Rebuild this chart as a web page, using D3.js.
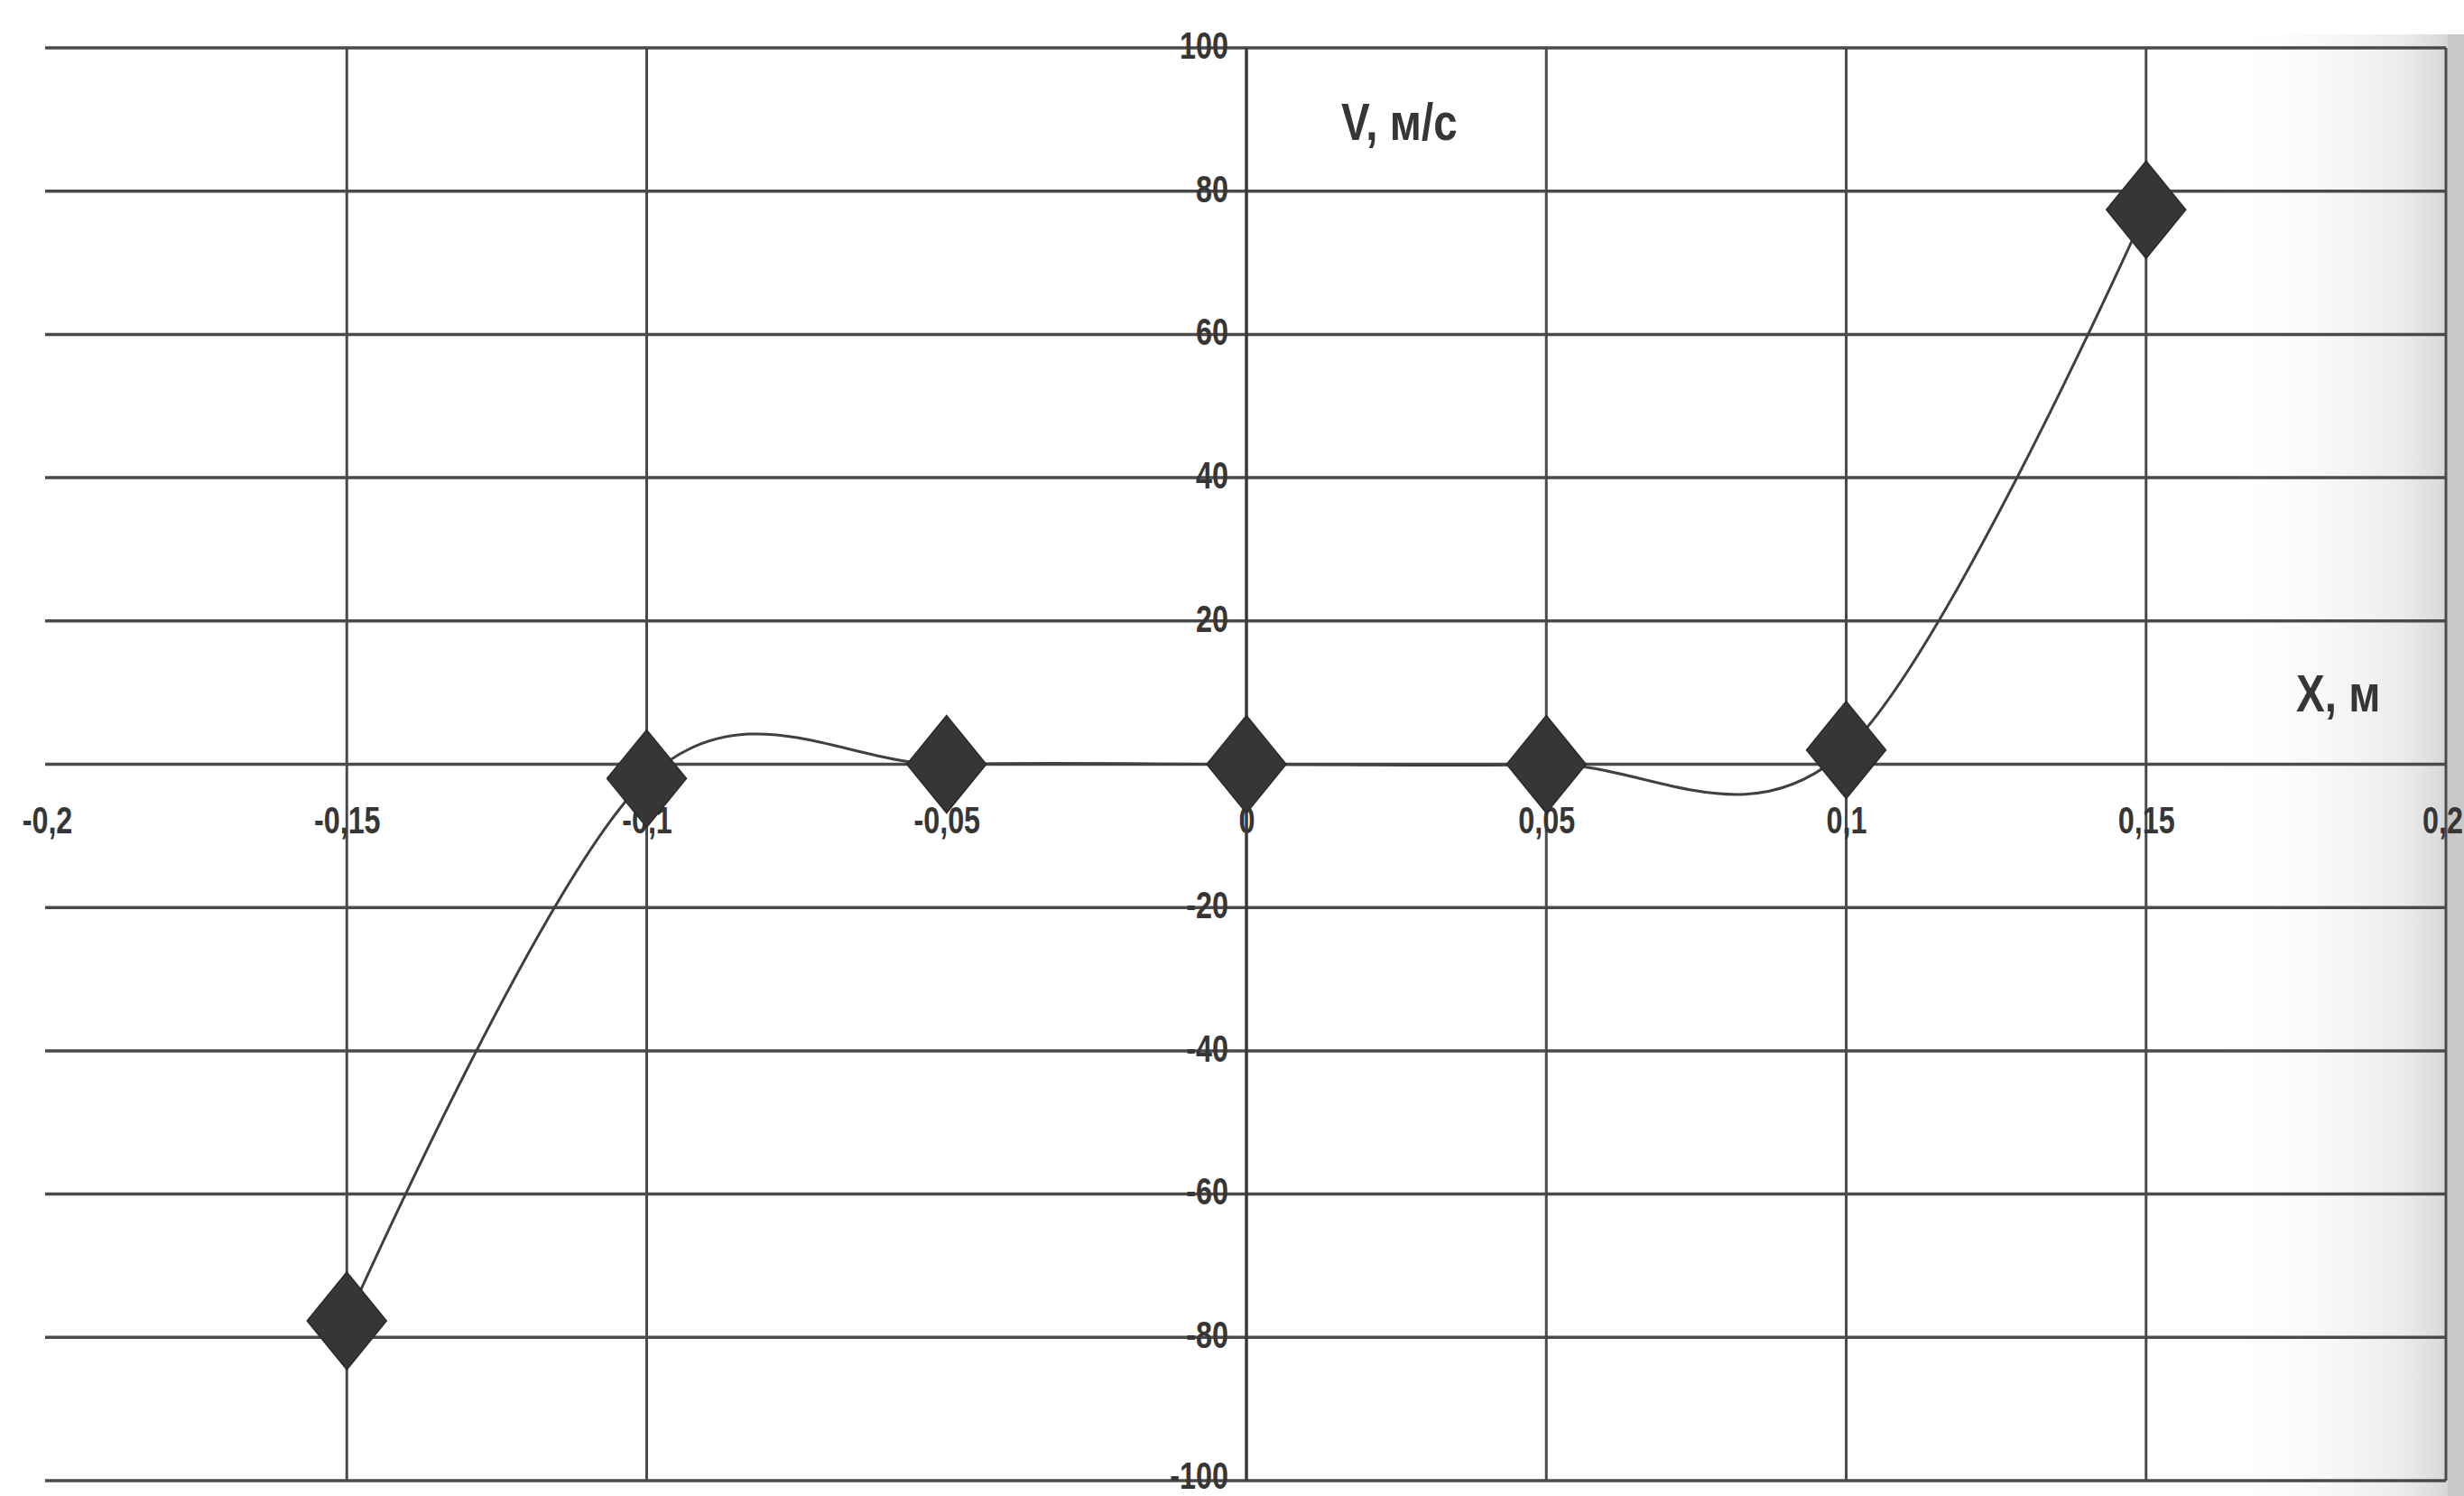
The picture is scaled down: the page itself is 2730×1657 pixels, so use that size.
<!DOCTYPE html>
<html>
<head>
<meta charset="utf-8">
<script src="https://cdn.jsdelivr.net/npm/d3@7/dist/d3.min.js"></script>
<style>
  html, body { margin: 0; padding: 0; background: #fff; }
  svg { display: block; }
</style>
</head>
<body>
<svg id="chart" width="2730" height="1657"></svg>
<script>
// ---- data ----
const xValues = [-0.15, -0.1, -0.05, 0, 0.05, 0.1, 0.15];
const vValues = [-77.7, -2, 0, 0, 0, 2, 77.4];

const xTicks = [-0.2, -0.15, -0.1, -0.05, 0, 0.05, 0.1, 0.15, 0.2];
const xTickLabels = ["-0,2", "-0,15", "-0,1", "-0,05", "0", "0,05", "0,1", "0,15", "0,2"];
const xGridTicks = [-0.15, -0.1, 0.05, 0.1, 0.15, 0.2];

const yTicks = [100, 80, 60, 40, 20, -20, -40, -60, -80, -100];
const yTickLabels = ["100", "80", "60", "40", "20", "-20", "-40", "-60", "-80", "-100"];
const yGridTicks = [100, 80, 60, 40, 20, 0, -20, -40, -60, -80, -100];

const xTitle = "X, м";
const yTitle = "V, м/с";

// ---- layout ----
const W = 2730, H = 1657;
const svg = d3.select("#chart");
const x = d3.scaleLinear().domain([-0.2, 0.2]).range([52, 2710]);
const y = d3.scaleLinear().domain([-100, 100]).range([1640, 53]);

const FONT = "'Liberation Sans Narrow', 'Arial Narrow', 'Liberation Sans', Arial, sans-serif";
const ink = "#363636";
const SX = 0.77; // horizontal condensing to imitate a narrow face

// scan shading on the right edge
const defs = svg.append("defs");
const g1 = defs.append("linearGradient").attr("id", "scan").attr("x1", "0").attr("x2", "1").attr("y1", "0").attr("y2", "0");
g1.append("stop").attr("offset", "0").attr("stop-color", "#ffffff").attr("stop-opacity", 0);
g1.append("stop").attr("offset", "0.75").attr("stop-color", "#d8d8d8").attr("stop-opacity", 0.5);
g1.append("stop").attr("offset", "1").attr("stop-color", "#c4c4c4").attr("stop-opacity", 0.85);
svg.append("rect").attr("x", 2450).attr("y", 38).attr("width", W - 2450).attr("height", H - 38)
  .attr("fill", "url(#scan)");
svg.append("rect").attr("x", 2712).attr("y", 38).attr("width", W - 2712).attr("height", H - 38)
  .attr("fill", "#c8c8c8");

// horizontal grid
svg.append("g").selectAll("line").data(yGridTicks).join("line")
  .attr("x1", x(-0.2) - 2).attr("x2", x(0.2))
  .attr("y1", d => y(d)).attr("y2", d => y(d))
  .attr("stroke", "#4a4a4a").attr("stroke-width", 3.5);

// vertical grid
svg.append("g").selectAll("line").data(xGridTicks).join("line")
  .attr("x1", d => x(d)).attr("x2", d => x(d))
  .attr("y1", y(100)).attr("y2", y(-100))
  .attr("stroke", "#4a4a4a").attr("stroke-width", 3);

// y axis line at x = 0
svg.append("line")
  .attr("x1", x(0)).attr("x2", x(0)).attr("y1", y(100)).attr("y2", y(-100))
  .attr("stroke", "#3a3a3a").attr("stroke-width", 3.5);

// y tick labels via axis
const yAxis = d3.axisLeft(y).tickValues(yTicks)
  .tickFormat((d, i) => yTickLabels[i]).tickSize(0).tickPadding(20);
const gy = svg.append("g").attr("transform", `translate(${x(0)},0)`).call(yAxis);
gy.select(".domain").remove();
gy.selectAll("text").attr("font-family", FONT).attr("font-size", 42)
  .attr("font-weight", "bold").attr("fill", ink)
  .attr("dy", (d, i) => i === yTicks.length - 1 ? "0.2em" : "0.27em")
  .attr("x", -20 / SX).attr("transform", `scale(${SX},1)`);

// x tick labels via axis
const xAxis = d3.axisBottom(x).tickValues(xTicks)
  .tickFormat((d, i) => xTickLabels[i]).tickSize(0).tickPadding(0);
const gx = svg.append("g").attr("transform", `translate(0,${y(0) + 61})`).call(xAxis);
gx.select(".domain").remove();
gx.selectAll("text").attr("font-family", FONT).attr("font-size", 42)
  .attr("font-weight", "bold").attr("fill", ink).attr("dy", "0.36em").attr("y", 0)
  .attr("x", (d, i) => i === xTicks.length - 1 ? -4 / SX : 0)
  .attr("transform", `scale(${SX},1)`);

// axis titles
svg.append("text")
  .attr("transform", `translate(${x(0) + 105},${y(100) + 102}) scale(0.82,1)`)
  .attr("font-family", FONT).attr("font-size", 58).attr("font-weight", "bold")
  .attr("fill", ink).text(yTitle);
svg.append("text")
  .attr("transform", `translate(${x(0.2) - 166},${y(0) - 59}) scale(0.82,1)`)
  .attr("font-family", FONT).attr("font-size", 58).attr("font-weight", "bold")
  .attr("fill", ink).text(xTitle);

// smoothed line
const pts = xValues.map((d, i) => [d, vValues[i]]);
const line = d3.line().x(d => x(d[0])).y(d => y(d[1])).curve(d3.curveCardinal.tension(0));
svg.append("path").attr("d", line(pts)).attr("fill", "none")
  .attr("stroke", "#404040").attr("stroke-width", 3);

// diamond markers
const mw = 44, mh = 54;
svg.append("g").selectAll("path").data(pts).join("path")
  .attr("transform", d => `translate(${x(d[0])},${y(d[1])})`)
  .attr("d", `M0,${-mh} L${mw},0 L0,${mh} L${-mw},0 Z`)
  .attr("fill", "#363636").attr("stroke", "#2a2a2a").attr("stroke-width", 1.5);
</script>
</body>
</html>
